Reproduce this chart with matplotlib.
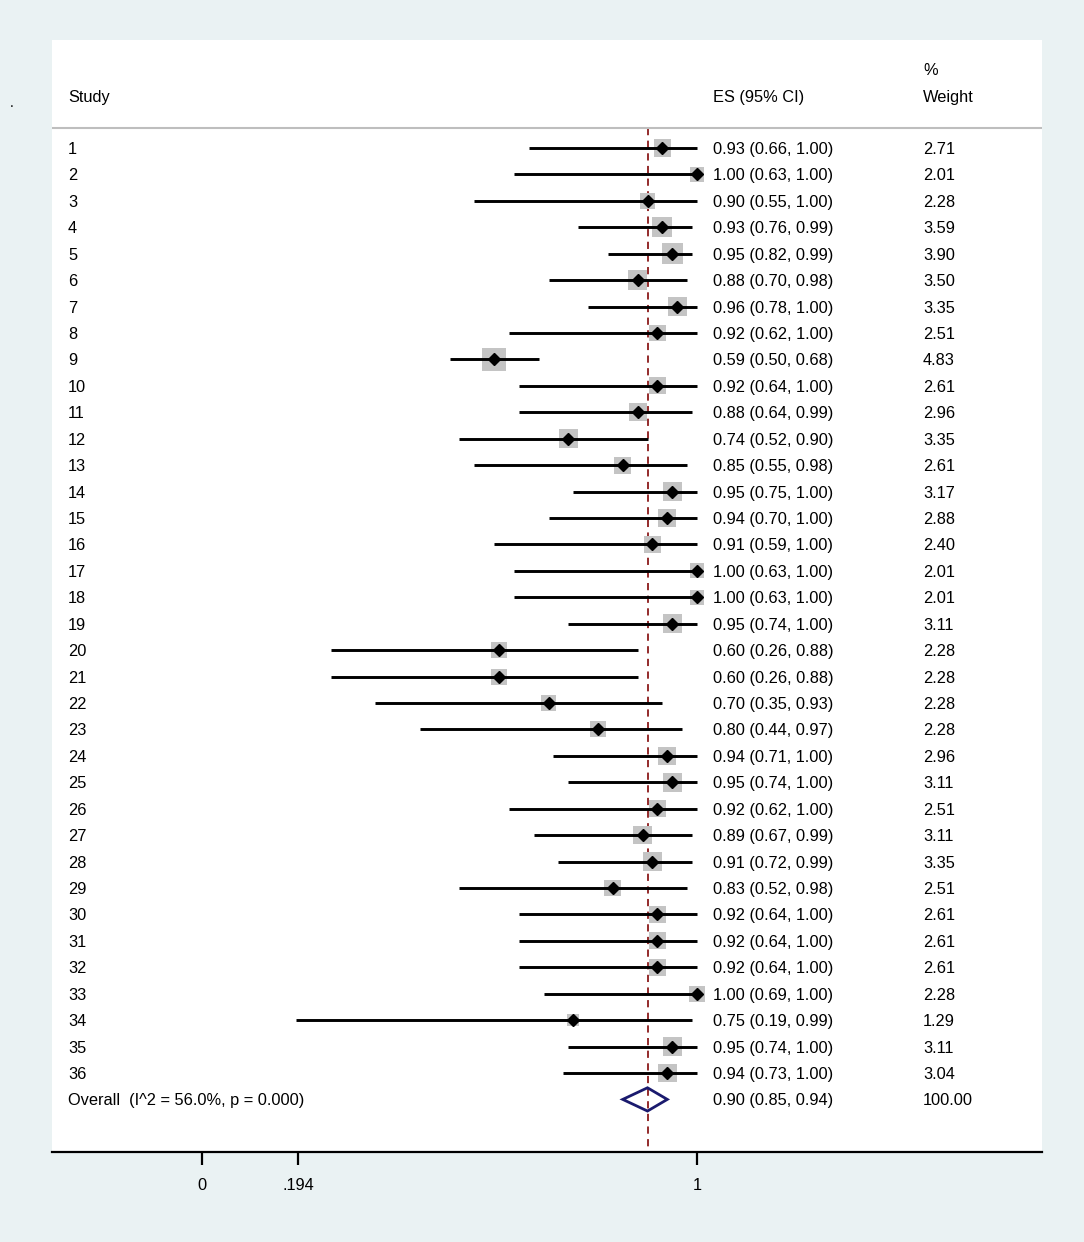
import numpy as np
import matplotlib.pyplot as plt

plt.rcParams['font.family'] = ['Liberation Sans', 'DejaVu Sans']

# data
studies = [str(i) for i in range(1, 37)]
es = [0.93, 1.00, 0.90, 0.93, 0.95, 0.88, 0.96, 0.92, 0.59, 0.92, 0.88, 0.74,
      0.85, 0.95, 0.94, 0.91, 1.00, 1.00, 0.95, 0.60, 0.60, 0.70, 0.80, 0.94,
      0.95, 0.92, 0.89, 0.91, 0.83, 0.92, 0.92, 0.92, 1.00, 0.75, 0.95, 0.94]
lo = [0.66, 0.63, 0.55, 0.76, 0.82, 0.70, 0.78, 0.62, 0.50, 0.64, 0.64, 0.52,
      0.55, 0.75, 0.70, 0.59, 0.63, 0.63, 0.74, 0.26, 0.26, 0.35, 0.44, 0.71,
      0.74, 0.62, 0.67, 0.72, 0.52, 0.64, 0.64, 0.64, 0.69, 0.19, 0.74, 0.73]
hi = [1.00, 1.00, 1.00, 0.99, 0.99, 0.98, 1.00, 1.00, 0.68, 1.00, 0.99, 0.90,
      0.98, 1.00, 1.00, 1.00, 1.00, 1.00, 1.00, 0.88, 0.88, 0.93, 0.97, 1.00,
      1.00, 1.00, 0.99, 0.99, 0.98, 1.00, 1.00, 1.00, 1.00, 0.99, 1.00, 1.00]
weights = [2.71, 2.01, 2.28, 3.59, 3.90, 3.50, 3.35, 2.51, 4.83, 2.61, 2.96, 3.35,
           2.61, 3.17, 2.88, 2.40, 2.01, 2.01, 3.11, 2.28, 2.28, 2.28, 2.28, 2.96,
           3.11, 2.51, 3.11, 3.35, 2.51, 2.61, 2.61, 2.61, 2.28, 1.29, 3.11, 3.04]
overall_es, overall_lo, overall_hi = 0.90, 0.85, 0.94
overall_weight = 100.00
overall_label = "Overall  (I^2 = 56.0%, p = 0.000)"
xticks = [0, 0.194, 1]
xticklabels = ["0", ".194", "1"]

bg = '#EAF2F3'
fs = 11.8
fig = plt.figure(figsize=(10.84, 12.42), dpi=100, facecolor=bg)
ax = fig.add_axes([52/1084, 1 - 1152/1242, 990/1084, 1112/1242])
ax.set_facecolor('white')

x_left, x_right = (52 - 202) / 495, (1042 - 202) / 495
ax.set_xlim(x_left, x_right)
ax.set_ylim(38.99, -3.086)

rows = np.arange(1, len(studies) + 1)
col_study = (68 - 202) / 495
col_es = (713 - 202) / 495
col_w = (923 - 202) / 495
va = 'center_baseline'

# header
ax.text(col_study, -0.97, "Study", fontsize=fs, va=va)
ax.text(col_es, -0.97, "ES (95% CI)", fontsize=fs, va=va)
ax.text(col_w, -0.97, "Weight", fontsize=fs, va=va)
ax.text(col_w, -1.99, "%", fontsize=fs, va=va)
ax.axhline(0.243, color='#BEBEBE', lw=1.5)

# reference line at overall estimate
ax.plot([overall_es, overall_es], [0.243, 38.99], color='#8B1A1A', lw=1.3,
        ls=(0, (4, 3)), zorder=1)

# study boxes, CIs and point estimates
ax.scatter(es, rows, s=np.array(weights) * 58, marker='s', color='#C4C4C4',
           zorder=2, linewidths=0)
ax.hlines(rows, lo, hi, color='black', lw=2.1, zorder=3)
ax.plot(es, rows, 'D', color='black', ms=6, zorder=4)

for r, s, e, l, h, w in zip(rows, studies, es, lo, hi, weights):
    ax.text(col_study, r, s, fontsize=fs, va=va)
    ax.text(col_es, r, f"{e:.2f} ({l:.2f}, {h:.2f})", fontsize=fs, va=va)
    ax.text(col_w, r, f"{w:.2f}", fontsize=fs, va=va)

# overall diamond
ro = len(studies) + 1
ax.fill([overall_lo, overall_es, overall_hi, overall_es],
        [ro, ro - 0.44, ro, ro + 0.44], facecolor='none',
        edgecolor='#1A1A6E', lw=2, zorder=5)
ax.text(col_study, ro, overall_label, fontsize=fs, va=va)
ax.text(col_es, ro, f"{overall_es:.2f} ({overall_lo:.2f}, {overall_hi:.2f})",
        fontsize=fs, va=va)
ax.text(col_w, ro, f"{overall_weight:.2f}", fontsize=fs, va=va)

# axes styling
for side in ['top', 'left', 'right']:
    ax.spines[side].set_visible(False)
ax.spines['bottom'].set_linewidth(1.6)
ax.set_yticks([])
ax.set_xticks(xticks)
ax.set_xticklabels(xticklabels, fontsize=fs)
ax.tick_params(axis='x', direction='out', length=9.5, width=1.6, pad=9)

fig.text(10/1084, 1 - 103/1242, ".", fontsize=10, va='center')

fig.savefig("out.png", dpi=100, facecolor=bg)
